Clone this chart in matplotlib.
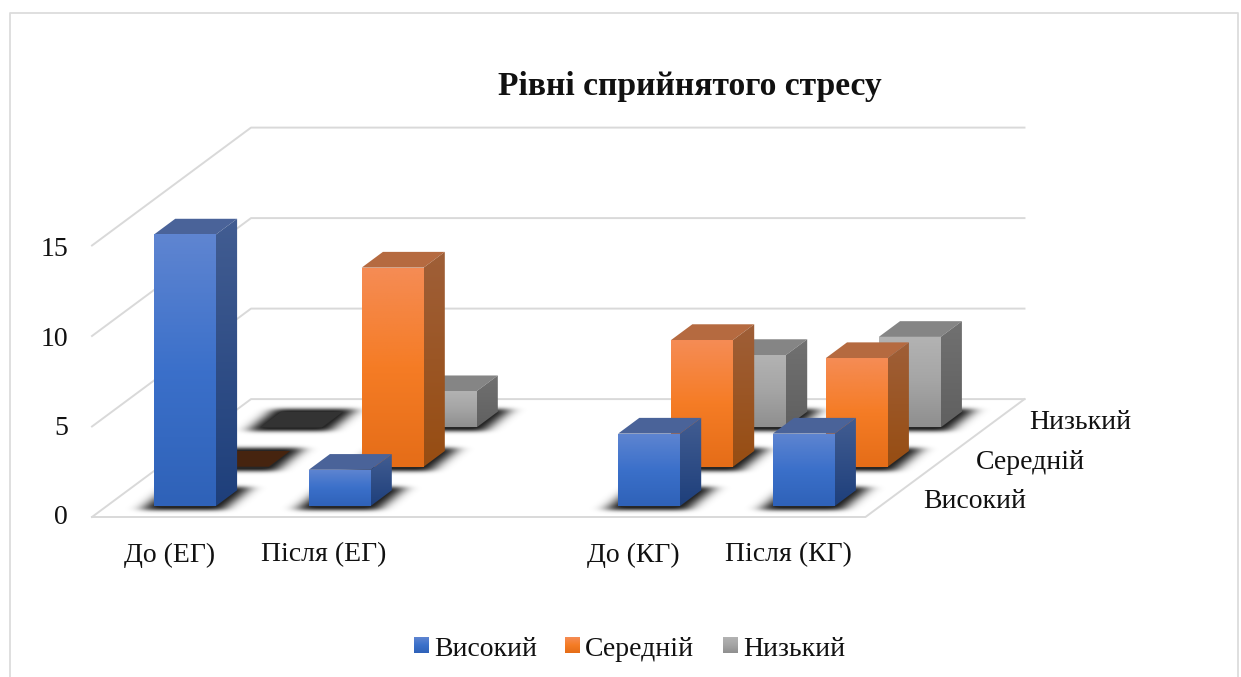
import matplotlib.pyplot as plt
import numpy as np
from matplotlib.colors import LinearSegmentedColormap
from matplotlib.patches import Polygon
from matplotlib.path import Path

categories = ["До (ЕГ)", "Після (ЕГ)", "", "До (КГ)", "Після (КГ)"]
series_names = ["Високий", "Середній", "Низький"]
high = [15, 2, np.nan, 4, 4]
middle = [0, 11, np.nan, 7, 6]
low = [0, 2, np.nan, 4, 5]
value_ticks = [0, 5, 10, 15]

front_colors = [
    ["#5f85d1", "#3b70ca", "#2f62b8"],
    ["#f58c55", "#f57c25", "#e56d18"],
    ["#b3b3b3", "#a5a5a5", "#8f8f8f"],
]
side_colors = [["#425d92", "#1e3f7b"], ["#9f5f38", "#974d12"], ["#717171", "#606060"]]
top_colors = ["#4a6399", "#b56a40", "#858585"]
empty_colors = ["#1c2a45", "#46240f", "#333333"]

GRID = "#d9d9d9"
TEXT = "#111111"
FONT = "Liberation Serif"

# oblique projection of the Excel 3D chart, in image pixels
X0, Y0 = 92, 517
CAT_W = 154.7
ROW_DX, ROW_DY = 53, 39.3
UNIT = 18.1


def project(cat, row, value=0):
    return X0 + CAT_W * cat + ROW_DX * row, Y0 - ROW_DY * row - UNIT * value


def gradient_face(ax, points, colors, zorder):
    cmap = LinearSegmentedColormap.from_list("face", colors)
    xs = [p[0] for p in points]
    ys = [p[1] for p in points]
    grad = np.linspace(0, 1, 128).reshape(-1, 1)
    im = ax.imshow(grad, cmap=cmap, aspect="auto", zorder=zorder, interpolation="bilinear",
                   extent=(min(xs), max(xs), max(ys), min(ys)))
    clip = Polygon(points, closed=True, transform=ax.transData)
    im.set_clip_path(clip)


def blur(mask, sigma, axis):
    r = int(3 * sigma)
    kernel = np.exp(-0.5 * (np.arange(-r, r + 1) / sigma) ** 2)
    kernel /= kernel.sum()
    return np.apply_along_axis(lambda m: np.convolve(m, kernel, mode="same"), axis, mask)


def shadow(ax, points, zorder):
    pts = np.array(points, dtype=float)
    center = pts.mean(axis=0)
    grown = center + (pts - center) * [1.32, 1.45]
    x_lo, x_hi = int(pts[:, 0].min()) - 50, int(pts[:, 0].max()) + 50
    y_lo, y_hi = int(pts[:, 1].min()) - 20, int(pts[:, 1].max()) + 20
    gx, gy = np.meshgrid(np.arange(x_lo, x_hi), np.arange(y_lo, y_hi))
    inside = Path(grown).contains_points(np.c_[gx.ravel(), gy.ravel()]).reshape(gx.shape)
    alpha = blur(blur(inside.astype(float), 7.5, 1), 2.0, 0)
    rgba = np.zeros(gx.shape + (4,))
    rgba[..., 3] = np.clip(alpha * 0.95, 0, 0.85)
    ax.imshow(rgba, aspect="auto", zorder=zorder, interpolation="bilinear",
              extent=(x_lo, x_hi, y_hi, y_lo))


def draw_bar(ax, cat, row, value, s, zorder):
    x0, x1 = cat + 0.305, cat + 0.705
    d0, d1 = row + 0.28, row + 0.68
    top = [project(x0, d0, value), project(x1, d0, value), project(x1, d1, value), project(x0, d1, value)]
    if value == 0:
        ax.add_patch(Polygon(top, closed=True, fc=empty_colors[s], ec="none", zorder=zorder + 0.1))
        return
    ax.add_patch(Polygon(top, closed=True, fc=top_colors[s], ec="none", zorder=zorder + 0.1))
    front = [project(x0, d0, value), project(x1, d0, value), project(x1, d0), project(x0, d0)]
    side = [project(x1, d0, value), project(x1, d1, value), project(x1, d1), project(x1, d0)]
    gradient_face(ax, side, side_colors[s], zorder + 0.1)
    gradient_face(ax, front, front_colors[s], zorder + 0.2)


fig = plt.figure(figsize=(12.41, 6.77), dpi=100)
ax = fig.add_axes([0, 0, 1, 1])
ax.axis("off")

# chart border, cut off by the bottom of the image
ax.plot([10, 10, 1238, 1238], [677, 13, 13, 677], color="#dcdcdc", lw=1.3, zorder=0)

# walls and floor
n_cat, n_row = len(categories), len(series_names)
for v in value_ticks:
    pts = [project(0, 0, v), project(0, n_row, v), project(n_cat, n_row, v)]
    ax.plot(*zip(*pts), color=GRID, lw=1.4, zorder=1)
    ax.text(68, 518 - 17.87 * v, str(v), ha="right", va="center", family=FONT, fontsize=20, color=TEXT)
floor = [project(0, 0), project(n_cat, 0), project(n_cat, n_row)]
ax.plot(*zip(*floor), color=GRID, lw=1.4, zorder=1)

# back rows first so the front rows cover them, shadows below the bars of their row
rows = [high, middle, low]
for row in range(n_row - 1, -1, -1):
    base = 2 + (n_row - row) * 10
    for cat in range(n_cat):
        value = rows[row][cat]
        if np.isnan(value):
            continue
        x0, x1 = cat + 0.305, cat + 0.705
        d0, d1 = row + 0.28, row + 0.68
        shadow(ax, [project(x0, d0), project(x1, d0), project(x1, d1), project(x0, d1)], base)
        draw_bar(ax, cat, row, value, row, base + 1 + cat)

for i, label in enumerate(categories):
    ax.text(project(i + 0.5, 0)[0], 555, label, ha="center", va="center", family=FONT, fontsize=20, color=TEXT)

for i, name in enumerate(series_names):
    x, y = project(n_cat, i + 0.5)
    ax.text(x + 31, y + 4, name, ha="left", va="center", family=FONT, fontsize=20, color=TEXT)

ax.text(689.5, 87, "Рівні сприйнятого стресу", ha="center", va="center", family=FONT, fontsize=24.2,
        fontweight="bold", color=TEXT)

# legend
legend_x = [414, 565, 723]
for i, name in enumerate(series_names):
    x = legend_x[i]
    box = [(x, 637), (x + 15, 637), (x + 15, 653), (x, 653)]
    gradient_face(ax, box, front_colors[i], 100)
    ax.text(x + 20, 650, name, ha="left", va="center", family=FONT, fontsize=20, color=TEXT)

ax.set_xlim(0, 1241)
ax.set_ylim(677, 0)
fig.savefig("out.png", dpi=100)
